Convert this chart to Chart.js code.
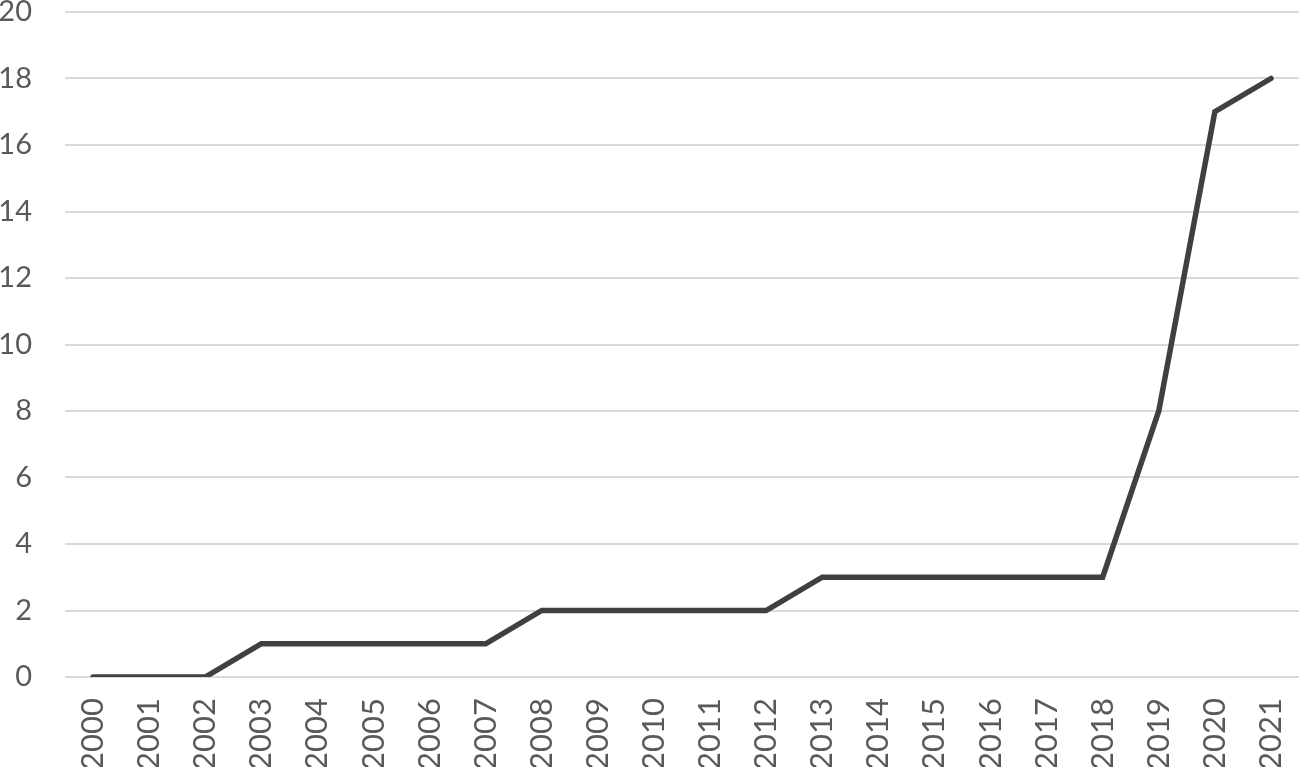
<!DOCTYPE html>
<html>
<head>
<meta charset="utf-8">
<script src="https://cdn.jsdelivr.net/npm/chart.js@4"></script>
<style>
  html, body { margin: 0; padding: 0; background: #fff; }
  #wrap { width: 1299px; height: 767px; }
</style>
</head>
<body>
<div id="wrap"><canvas id="lineChart"></canvas></div>
<script>
// years on the x axis
const years = ["2000", "2001", "2002", "2003", "2004", "2005", "2006", "2007", "2008", "2009", "2010",
  "2011", "2012", "2013", "2014", "2015", "2016", "2017", "2018", "2019", "2020", "2021"];
// cumulative count per year
const counts = [0, 0, 0, 1, 1, 1, 1, 1, 2, 2, 2, 2, 2, 3, 3, 3, 3, 3, 3, 8, 17, 18];
// y axis range
const yMin = 0, yMax = 20, yStep = 2;

const textColor = "#595959";

// drop the extra room chart.js reserves for overhanging labels
function noPad(scale) {
  scale.paddingTop = 0;
  scale.paddingBottom = 0;
  scale.paddingLeft = 0;
  scale.paddingRight = 0;
}

const ctx = document.getElementById("lineChart").getContext("2d");
new Chart(ctx, {
  type: "line",
  data: {
    labels: years,
    datasets: [{
      data: counts,
      borderColor: "#404040",
      borderWidth: 5.5,
      borderCapStyle: "round",
      borderJoinStyle: "miter",
      pointRadius: 0,
      tension: 0,
      fill: false
    }]
  },
  options: {
    responsive: true,
    maintainAspectRatio: false,
    animation: false,
    layout: { padding: { top: 12, right: 0, left: 0, bottom: 0 } },
    plugins: {
      legend: { display: false },
      tooltip: { enabled: false }
    },
    scales: {
      x: {
        offset: true,
        grid: { display: false, drawTicks: false },
        border: { display: false },
        ticks: {
          font: { family: "Lato", size: 31 },
          color: textColor,
          minRotation: 90,
          maxRotation: 90,
          autoSkip: false,
          padding: 21
        },
        afterFit: (scale) => { scale.height = 90; noPad(scale); }
      },
      y: {
        min: yMin,
        max: yMax,
        grid: { color: "#d9d9d9", lineWidth: 2, drawTicks: false },
        border: { display: false },
        ticks: {
          stepSize: yStep,
          font: { family: "Lato", size: 29 },
          color: textColor,
          padding: 33
        },
        afterFit: (scale) => { scale.width = 65; noPad(scale); }
      }
    }
  }
});
</script>
</body>
</html>
